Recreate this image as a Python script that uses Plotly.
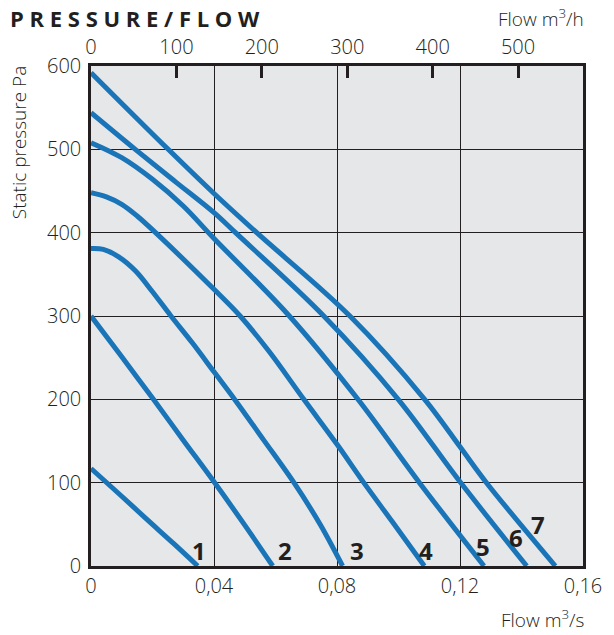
import plotly.graph_objects as go

# ---- data ----
curve_names = ["1", "2", "3", "4", "5", "6", "7"]

c1_x = [0.0, 0.009, 0.018, 0.027, 0.0347]
c1_y = [117, 87, 56.5, 26.5, 0]

c2_x = [0.0, 0.010, 0.0203, 0.030, 0.040, 0.050, 0.0591]
c2_y = [300, 251, 200, 151, 101, 49, 0]

c3_x = [0.0, 0.004, 0.009, 0.0145, 0.0198, 0.026, 0.033, 0.040, 0.0469, 0.056, 0.066, 0.0745, 0.0818]
c3_y = [381, 380, 371, 354, 330, 300, 267.5, 233, 199, 152, 100, 50, 0]

c4_x = [0.0, 0.005, 0.010, 0.015, 0.021, 0.040, 0.0485, 0.058, 0.0692, 0.080, 0.0887, 0.098, 0.1084]
c4_y = [448, 443, 434, 420, 400, 332, 300, 257, 200, 146, 100, 53, 0]

c5_x = [0.0, 0.010, 0.020, 0.030, 0.040, 0.0645, 0.0868, 0.1068, 0.1278]
c5_y = [508, 490, 464, 432, 393, 300, 200, 100, 0]

c6_x = [0.0, 0.0144, 0.0275, 0.040, 0.047, 0.0757, 0.0999, 0.120, 0.1417]
c6_y = [544, 500, 461, 424, 400, 300, 200, 101, 0]

c7_x = [0.0, 0.0251, 0.040, 0.0539, 0.0842, 0.1085, 0.120, 0.1286, 0.151]
c7_y = [592, 500, 447, 400, 300, 200, 143, 100, 0]

curves_x = [c1_x, c2_x, c3_x, c4_x, c5_x, c6_x, c7_x]
curves_y = [c1_y, c2_y, c3_y, c4_y, c5_y, c6_y, c7_y]

# curve number label positions (data coords)
label_x = [0.0352, 0.0630, 0.0864, 0.1090, 0.1275, 0.1383, 0.1454]
label_y = [19, 19, 19, 19, 23, 34, 50]

x_tickvals = [0, 0.04, 0.08, 0.12, 0.16]
x_ticktext = ["0", "0,04", "0,08", "0,12", "0,16"]
y_tickvals = [0, 100, 200, 300, 400, 500, 600]
top_tickvals = [0, 100, 200, 300, 400, 500]

# ---- style ----
BLUE = "#1a74b8"
DARK = "#231f20"
BG = "#e6e7e8"
FONT = "Open Sans"
TICKFONT = dict(family=FONT, size=20, color=DARK, weight=300)

fig = go.Figure()
for xs, ys, name in zip(curves_x, curves_y, curve_names):
    fig.add_trace(go.Scatter(x=xs, y=ys, mode="lines", name=name,
                             line=dict(color=BLUE, width=5, shape="spline", smoothing=1.0),
                             showlegend=False, hoverinfo="skip"))

# invisible trace for top axis (m3/h)
fig.add_trace(go.Scatter(x=[0, 576], y=[0, 0], xaxis="x2", yaxis="y",
                         mode="lines", line=dict(width=0), showlegend=False, hoverinfo="skip"))

for lx, ly, name in zip(label_x, label_y, curve_names):
    fig.add_annotation(x=lx, y=ly, xref="x", yref="y", text="<b>" + name + "</b>",
                       showarrow=False, font=dict(family=FONT, size=24, color=DARK))

fig.update_layout(
    width=614, height=635,
    margin=dict(l=91, r=23, t=66, b=69),
    paper_bgcolor="white", plot_bgcolor=BG,
    xaxis=dict(range=[0, 0.16], tickvals=x_tickvals, ticktext=x_ticktext,
               showgrid=True, gridcolor=DARK, gridwidth=1.3,
               showline=True, linecolor=DARK, linewidth=2.5, mirror=True,
               zeroline=False, ticks="", ticklabelstandoff=0,
               tickfont=TICKFONT),
    xaxis2=dict(range=[0, 576], overlaying="x", side="top", tickvals=top_tickvals,
                showgrid=False, zeroline=False, showline=False,
                ticks="inside", ticklen=12, tickwidth=2.5, tickcolor=DARK,
                ticklabelstandoff=7,
                tickfont=TICKFONT),
    yaxis=dict(range=[0, 600], tickvals=y_tickvals,
               showgrid=True, gridcolor=DARK, gridwidth=1.3,
               showline=True, linecolor=DARK, linewidth=2.5, mirror=True,
               zeroline=False, ticks="", ticklabelstandoff=3,
               tickfont=TICKFONT),
)

# helpers: window pixel -> paper coords (plot area spans 91..591 x, 66..566 y)
def px_x(p):
    return (p - 91) / 500.0

def px_y(p):
    return (566 - p) / 500.0

title_txt = " ".join(list("PRESSURE/FLOW"))
fig.add_annotation(x=px_x(7), y=px_y(18), xref="paper", yref="paper", xanchor="left", yanchor="middle",
                   text="<b>" + title_txt + "</b>", showarrow=False,
                   font=dict(family=FONT, size=22, color=DARK))
fig.add_annotation(x=px_x(594), y=px_y(18), xref="paper", yref="paper", xanchor="right", yanchor="middle",
                   text="Flow m<sup>3</sup>/h", showarrow=False,
                   font=dict(family=FONT, size=19, color=DARK, weight=300))
fig.add_annotation(x=px_x(594), y=px_y(619), xref="paper", yref="paper", xanchor="right", yanchor="middle",
                   text="Flow m<sup>3</sup>/s", showarrow=False,
                   font=dict(family=FONT, size=19, color=DARK, weight=300))
fig.add_annotation(x=px_x(18), y=px_y(143), xref="paper", yref="paper", xanchor="center", yanchor="middle",
                   text="Static pressure Pa", textangle=-90, showarrow=False,
                   font=dict(family=FONT, size=19, color=DARK, weight=300))

# remove the default 8px body margin so the figure fills the window exactly
fig.write_html("out.html", config={"displayModeBar": False},
               post_script="document.body.style.margin='0';")
